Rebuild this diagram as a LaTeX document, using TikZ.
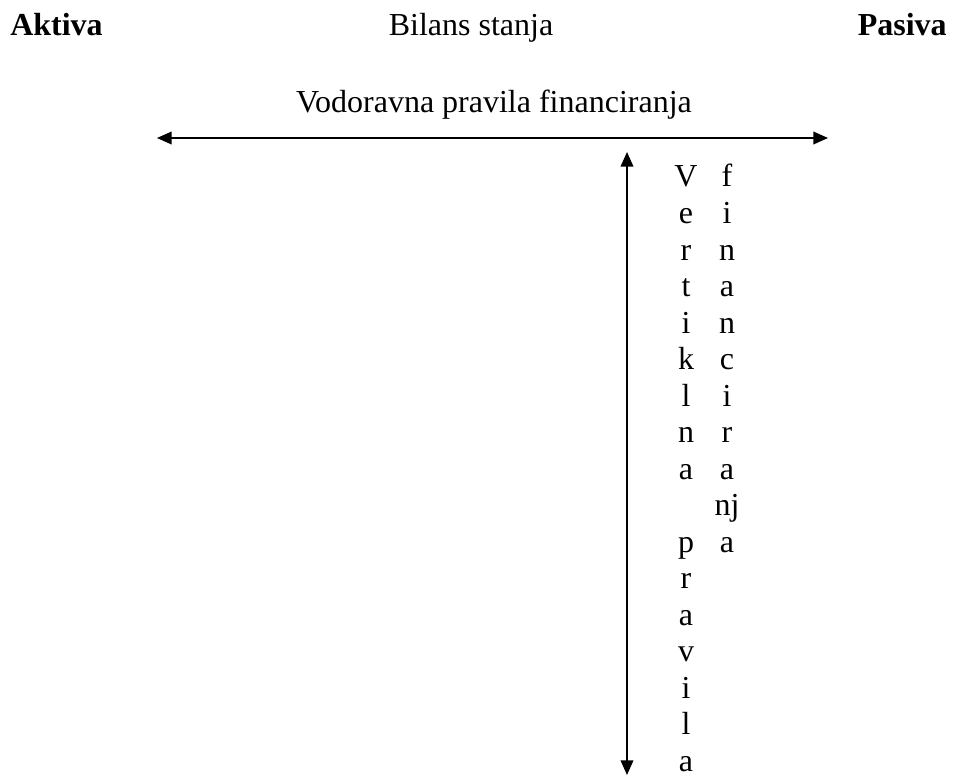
\documentclass[tikz,border=0pt]{standalone}
\usepackage{fontspec}
\setmainfont{Liberation Serif}
\usetikzlibrary{arrows.meta}
\begin{document}
\begin{tikzpicture}[x=0.75pt,y=-0.75pt,
  lbl/.style={inner sep=0pt,font=\fontsize{24pt}{27.4pt}\selectfont},
  head/.style={lbl,font=\fontsize{24pt}{27.4pt}\selectfont\bfseries},
  col/.style={lbl,align=center,anchor=base},
  arr/.style={line width=1.2pt,{Triangle[length=11pt,width=9.5pt]}-{Triangle[length=11pt,width=9.5pt]}}]
\useasboundingbox (0,0) rectangle (953,778);
\node[head,anchor=base west] (akt) at (10,35) {Aktiva};
\node[lbl,anchor=base] (bil) at (471,35) {Bilans stanja};
\node[head,anchor=base east] (pas) at (947,35) {Pasiva};
\node[lbl,anchor=base] (vod) at (494,112) {Vodoravna pravila financiranja};
\coordinate (hl) at (157,138);
\coordinate (hr) at (828,138);
\draw[arr] (hl) -- (hr);
\coordinate (vt) at (627,152);
\coordinate (vb) at (627,775);
\draw[arr] (vt) -- (vb);
\node[col] (vert) at (686,771.5) {V\\e\\r\\t\\i\\k\\l\\n\\a\\\mbox{}\\p\\r\\a\\v\\i\\l\\a};
\node[col] (fin) at (727,552.3) {f\\i\\n\\a\\n\\c\\i\\r\\a\\nj\\a};
\end{tikzpicture}
\end{document}
